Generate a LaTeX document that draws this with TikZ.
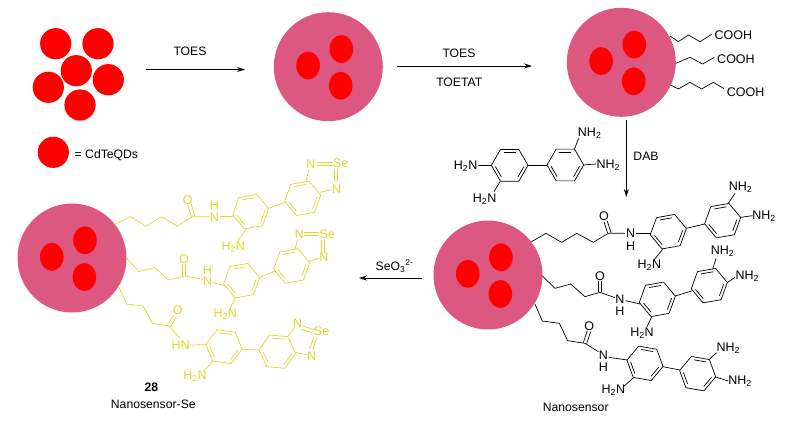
\documentclass[tikz,border=0pt]{standalone}
\usepackage{fontspec}
\setmainfont{Liberation Sans}
\usepackage{tikz}
\usetikzlibrary{calc,arrows.meta,shapes.geometric}
\usepackage{xcolor}
\definecolor{shellpink}{RGB}{220,88,128}
\definecolor{dotred}{RGB}{255,0,0}
\definecolor{seyellow}{RGB}{218,218,40}
\newcommand{\HtwoN}{H\textsubscript{2}N}
\newcommand{\NHtwo}{NH\textsubscript{2}}
% one aromatic ring: centre x, centre y, rotation
\newcommand{\benz}[3]{
  \draw[bond] \foreach \k in {0,...,5} {
    ({#1+55*cos(#3+60*\k)},{#2-55*sin(#3+60*\k)}) -- ({#1+55*cos(#3+60*\k+60)},{#2-55*sin(#3+60*\k+60)})};
  \foreach \k in {1,3,5}
    \draw[bond] ({#1+43*cos(#3+60*\k+5)},{#2-43*sin(#3+60*\k+5)}) -- ({#1+43*cos(#3+60*\k+55)},{#2-43*sin(#3+60*\k+55)});
}
% silica shell with three dots inside
\newcommand{\shell}[2]{
  \node[shellball] (#1) at (#2) {};
  \node[qdin] (#1a) at ($(#1)+(-20.2,-1.2)$) {};
  \node[qdin] (#1b) at ($(#1)+(13,-17.7)$) {};
  \node[qdin] (#1c) at ($(#1)+(12.4,19)$) {};
}
\tikzset{
  shellball/.style={circle, fill=shellpink, inner sep=0pt, minimum size=109pt},
  qdin/.style={ellipse, fill=dotred, inner sep=0pt, minimum width=23.6pt, minimum height=28pt},
  qdfree/.style={circle, fill=dotred, inner sep=0pt, minimum size=31.2pt},
  bond/.style={line width=0.7pt, line join=round},
  rxn/.style={line width=0.75pt, -{Stealth[length=8pt,width=5pt]}},
  atom/.style={inner sep=0pt, font=\fontsize{12.5}{12.5}\selectfont},
  note/.style={inner sep=0pt, font=\fontsize{12.2}{12.5}\selectfont}
}
\begin{document}
\begin{tikzpicture}[x=1pt,y=-1pt]
  \useasboundingbox (0,0) rectangle (789,424);
  % free dots
  \node[qdfree] (qd1) at (55.7,43.7) {};
  \node[qdfree] (qd2) at (98,43.7) {};
  \node[qdfree] (qd3) at (76.3,70.7) {};
  \node[qdfree] (qd4) at (108.3,79.7) {};
  \node[qdfree] (qd5) at (48.3,87.3) {};
  \node[qdfree] (qd6) at (80,105) {};
  \node[qdfree] (qdkey) at (53.3,152.3) {};
  \node[note,anchor=west] (keytxt) at (74.5,155) {= CdTeQDs};
  % coated particles
  \shell{shellA}{328.3,66.7}
  \shell{shellB}{621.3,62.3}
  \shell{shellC}{488,275}
  \shell{shellD}{72,258}
  % reaction arrows
  \coordinate (a1s) at (146,69.5);
  \coordinate (a1e) at (245,69.5);
  \coordinate (a2s) at (397,66);
  \coordinate (a2e) at (532,66);
  \coordinate (a3s) at (626.3,120);
  \coordinate (a3e) at (626.3,197);
  \coordinate (a4s) at (422,278);
  \coordinate (a4e) at (359,278);
  \draw[rxn] (a1s) -- (a1e);
  \draw[rxn] (a2s) -- (a2e);
  \draw[rxn] (a3s) -- (a3e);
  \draw[rxn] (a4s) -- (a4e);
  \node[note] (r1) at (190,51.7) {TOES};
  \node[note] (r2) at (459,53.5) {TOES};
  \node[note] (r3) at (459.3,82.5) {TOETAT};
  \node[note] (r4) at (646,156.5) {DAB};
  \node[note] (r5) at (394.5,266) {SeO\textsubscript{3}\textsuperscript{2-}};
  \node[note,font=\fontsize{12.2}{12.5}\selectfont\bfseries] (n28) at (151.3,387.7) {28};
  \node[note] (nse) at (153.3,404) {Nanosensor-Se};
  \node[note] (nano) at (575.7,407.7) {Nanosensor};
  % top particle with acid arms and free DAB
  \begin{scope}[shift={(430,0)},x=0.3333pt,y=-0.3333pt]
    \draw[bond] (720,108)--(745,125)--(775,105)--(810,125)--(845,103);
    \draw[bond] (738,190)--(780,172)--(818,192)--(853,172);
    \draw[bond] (722,255)--(745,267)--(780,247)--(815,267)--(850,247)--(882,266);
    \node[atom] (acid1) at (910,107) {COOH};
    \node[atom] (acid2) at (918,179) {COOH};
    \node[atom] (acid3) at (947,278) {COOH};
    \benz{239}{496}{0}
    \benz{406}{495}{0}
    \draw[bond] (294,496)--(351,496);
    \draw[bond] (145,496)--(184,496);
    \draw[bond] (211,544)--(192,575);
    \draw[bond] (433,448)--(446,415);
    \draw[bond] (461,495)--(498,492);
    \node[atom] (dab1) at (107,500) {\HtwoN};
    \node[atom] (dab2) at (164,597) {\HtwoN};
    \node[atom] (dab3) at (479,400) {\NHtwo};
    \node[atom] (dab4) at (535,495) {\NHtwo};
  \end{scope}
  % nanosensor, black arms
  \begin{scope}[shift={(420,170)},x=0.3333pt,y=-0.3333pt]
    % upper arm
    \draw[bond] (335,215)--(378,190)--(425,217)--(470,190)--(520,217)--(565,190)--(615,190);
    \draw[bond] (563,190)--(552,155) (573,188)--(562,153);
    \draw[bond] (648,190)--(692,190);
    \benz{745}{185}{10}
    \benz{908}{152}{10}
    \draw[bond] (799,175)--(854,162);
    \draw[bond] (728,238)--(702,270);
    \draw[bond] (925,100)--(945,70);
    \draw[bond] (962,142)--(998,137);
    \node[atom] (o1) at (552,140) {O};
    \node[atom] (n1) at (632,191) {N};
    \node[atom] (h1) at (632,228) {H};
    \node[atom] (a1) at (688,287) {\HtwoN};
    \node[atom] (a2) at (962,53) {\NHtwo};
    \node[atom] (a3) at (1032,138) {\NHtwo};
    % middle arm
    \draw[bond] (367,318)--(405,355)--(452,342)--(495,380)--(540,367)--(585,383);
    \draw[bond] (535,367)--(535,333) (545,367)--(545,333);
    \draw[bond] (617,392)--(660,402);
    \benz{712}{388}{10}
    \benz{868}{347}{10}
    \draw[bond] (766,378)--(815,363);
    \draw[bond] (695,441)--(680,472);
    \draw[bond] (878,298)--(888,265);
    \draw[bond] (922,338)--(945,322);
    \node[atom] (o2) at (540,318) {O};
    \node[atom] (n2) at (600,388) {N};
    \node[atom] (h2) at (600,423) {H};
    \node[atom] (a4) at (666,490) {\HtwoN};
    \node[atom] (a5) at (908,245) {\NHtwo};
    \node[atom] (a6) at (982,320) {\NHtwo};
    % lower arm
    \draw[bond] (345,402)--(367,453)--(418,460)--(443,512)--(495,520)--(535,545);
    \draw[bond] (490,518)--(502,482) (500,521)--(512,485);
    \draw[bond] (566,562)--(622,570);
    \benz{675}{580}{-10}
    \benz{833}{611}{-10}
    \draw[bond] (729,590)--(779,600);
    \draw[bond] (640,624)--(610,650);
    \draw[bond] (870,566)--(890,548);
    \draw[bond] (887,621)--(925,633);
    \node[atom] (o3) at (508,470) {O};
    \node[atom] (n3) at (550,557) {N};
    \node[atom] (h3) at (550,593) {H};
    \node[atom] (a7) at (580,662) {\HtwoN};
    \node[atom] (a8) at (925,536) {\NHtwo};
    \node[atom] (a9) at (960,635) {\NHtwo};
  \end{scope}
  % selenium product, yellow arms
  \begin{scope}[shift={(0,140)},x=0.3333pt,y=-0.3333pt,color=seyellow]
    % upper arm
    \draw[bond] (347,252)--(390,230)--(438,258)--(485,230)--(532,258)--(578,230)--(628,230);
    \draw[bond] (575,232)--(564,196) (585,229)--(574,193);
    \draw[bond] (660,230)--(700,230);
    \benz{752}{215}{10}
    \benz{908}{175}{10}
    \draw[bond] (806,205)--(856,187);
    \draw[bond] (738,268)--(712,305);
    \draw[bond] (918,122)--(927,88);
    \draw[bond] (950,66)--(998,66) (950,76)--(998,76);
    \draw[bond] (1003,86)--(1003,126) (1013,86)--(1013,126);
    \draw[bond] (995,149)--(960,157);
    \node[atom] (seo1) at (563,180) {O};
    \node[atom] (sen1) at (643,232) {N};
    \node[atom] (seh1) at (643,197) {H};
    \node[atom] (sea1) at (700,323) {\HtwoN};
    \node[atom] (sed1) at (933,72) {N};
    \node[atom] (see1) at (1022,70) {Se};
    \node[atom] (sef1) at (1010,147) {N};
    % middle arm
    \draw[bond] (380,355)--(417,395)--(465,382)--(505,420)--(555,408)--(608,418);
    \draw[bond] (547,408)--(547,373) (557,408)--(557,373);
    \draw[bond] (637,428)--(675,437);
    \benz{725}{422}{10}
    \benz{875}{378}{10}
    \draw[bond] (779,412)--(825,393);
    \draw[bond] (706,473)--(688,510);
    \draw[bond] (885,328)--(893,298);
    \draw[bond] (913,277)--(958,277) (913,287)--(958,287);
    \draw[bond] (963,300)--(963,338) (973,300)--(973,338);
    \draw[bond] (958,354)--(928,364);
    \node[atom] (seo2) at (552,357) {O};
    \node[atom] (sen2) at (622,425) {N};
    \node[atom] (seh2) at (622,392) {H};
    \node[atom] (sea2) at (676,523) {\HtwoN};
    \node[atom] (sed2) at (898,283) {N};
    \node[atom] (see2) at (982,282) {Se};
    \node[atom] (sef2) at (972,352) {N};
    % lower arm
    \draw[bond] (355,437)--(380,492)--(430,498)--(457,550)--(507,558)--(540,595);
    \draw[bond] (502,556)--(520,526) (511,561)--(529,531);
    \draw[bond] (570,615)--(620,614);
    \benz{672}{620}{-8}
    \benz{832}{635}{-5}
    \draw[bond] (726,628)--(778,630);
    \draw[bond] (640,662)--(610,695);
    \draw[bond] (863,590)--(883,565);
    \draw[bond] (908,558)--(945,570) (905,568)--(942,580);
    \draw[bond] (950,595)--(938,630) (941,592)--(929,627);
    \draw[bond] (922,645)--(887,637);
    \node[atom] (seo3) at (533,512) {O};
    \node[atom] (sen3) at (542,617) {HN};
    \node[atom] (sea3) at (585,710) {\HtwoN};
    \node[atom] (sed3) at (893,551) {N};
    \node[atom] (see3) at (965,575) {Se};
    \node[atom] (sef3) at (935,650) {N};
  \end{scope}
\end{tikzpicture}
\end{document}
